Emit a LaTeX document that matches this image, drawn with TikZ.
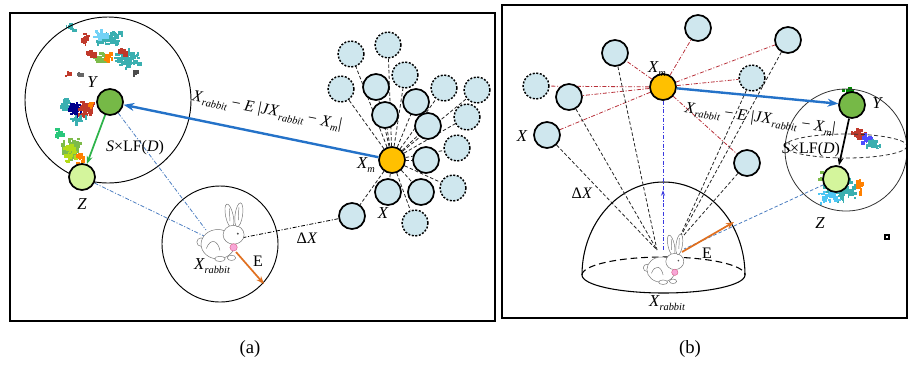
\documentclass[tikz,border=0pt]{standalone}
\usepackage{fontspec}
\setmainfont{Liberation Serif}
\usetikzlibrary{arrows.meta,decorations.markings}

\definecolor{nodeblue}{HTML}{CFE7EE}
\definecolor{gold}{HTML}{FFC000}
\definecolor{ygreen}{HTML}{76B947}
\definecolor{zgreen}{HTML}{D4F59C}
\definecolor{arrowblue}{HTML}{2472C8}
\definecolor{linkblue}{HTML}{4A7CC0}
\definecolor{redlink}{HTML}{B8313A}
\definecolor{eorange}{HTML}{E07020}
\definecolor{greenarrow}{HTML}{2DB34A}
\definecolor{upviolet}{HTML}{3A3AE0}
\definecolor{splteal}{HTML}{3AAFB0}
\definecolor{splred}{HTML}{C0392B}
\definecolor{splgreen}{HTML}{7DBB4A}

% sub-scripted symbols
\newcommand{\Xr}{\textit{X}\kern0.2pt\raisebox{-0.5ex}{\fontsize{7.8}{8}\selectfont\itshape rabbit}}
\newcommand{\Xm}{\textit{X}\kern0.2pt\raisebox{-0.5ex}{\fontsize{7.8}{8}\selectfont\itshape m}}
\newcommand{\stepeq}{\Xr\ − \textit{E}\ |\textit{J}\Xr\ − \Xm|}
\newcommand{\levy}{\textit{S}×LF(\textit{D})}

% random coloured speckles
\newcommand{\splat}[6]{%
  \foreach \k in {1,...,#5}{%
    \pgfmathsetmacro{\sx}{#1+#3*(rnd+rnd-1)}%
    \pgfmathsetmacro{\sy}{#2+#4*(rnd+rnd-1)}%
    \pgfmathsetmacro{\sw}{1.5+3.5*rnd}%
    \pgfmathsetmacro{\sh}{1.5+3*rnd}%
    \fill[#6] (\sx,\sy) rectangle ++(\sw,\sh);
  }}

\pgfdeclarelayer{bg}
\pgfsetlayers{bg,main}

\tikzset{
  sol/.style={circle, draw=black, line width=1.3pt, fill=nodeblue, minimum size=19.5pt, inner sep=0pt},
  ghost/.style={circle, draw=black, line width=1.1pt, dash pattern=on 1.5pt off 1.2pt, fill=nodeblue, minimum size=19.5pt, inner sep=0pt},
  best/.style={sol, fill=gold},
  ynode/.style={sol, fill=ygreen},
  znode/.style={sol, fill=zgreen},
  lbl/.style={font=\fontsize{12.5}{14}\selectfont\itshape, inner sep=0pt},
  txt/.style={font=\fontsize{12}{14}\selectfont, inner sep=0pt},
  link/.style={draw=black!85, line width=0.6pt, dash pattern=on 2.6pt off 1.6pt},
  dotlink/.style={line width=0.6pt, dash pattern=on 3pt off 1.3pt on 0.8pt off 1.3pt},
  frame/.style={draw=black, line width=1.5pt},
  move/.style={-{Stealth[length=8pt,width=6pt]}, line width=1.8pt},
  thinarrow/.style={-{Stealth[length=6pt,width=4.5pt]}, line width=1.3pt},
  rabbit/.pic={
    \begin{scope}[draw=black!55, line width=0.35pt, fill=white]
      \filldraw (-19,2) circle[radius=4];
      \filldraw (-3,4) ellipse[x radius=16, y radius=14];
      \filldraw[rotate around={12:(8,-23)}] (8,-23) ellipse[x radius=3.6, y radius=11.5];
      \filldraw (12,-5) ellipse[x radius=10, y radius=9];
      \filldraw[rotate around={-8:(17,-24)}] (17,-24) ellipse[x radius=3.6, y radius=11.5];
      \draw (8,-30) -- (8.5,-18);
      \draw (17,-31) -- (16.5,-19);
      \draw (-14,8) .. controls (-10,-2) and (-3,0) .. (-1,10);
      \filldraw (-1,18) ellipse[x radius=5, y radius=2.5];
      \filldraw (10,17) ellipse[x radius=4, y radius=2.5];
      \fill[black!70] (16,-6) circle[radius=1];
      \filldraw[fill=magenta!35, draw=purple!60] (12,7) circle[radius=3.5];
    \end{scope}
  }
}

\begin{document}
\begin{tikzpicture}[x=0.75pt,y=-0.75pt]
\useasboundingbox (0,0) rectangle (909,376);
\pgfmathsetseed{42}

% ================= panel (a) =================
\draw[frame] (10,13) rectangle (495,321);

\node[ynode] (Ya) at (110,102) {};
\node[znode] (Za) at (82,177) {};
\node[lbl] (lYa) at (92,82) {Y};
\node[lbl] (lZa) at (82,204) {Z};
\node[txt] (lSa) at (135,148) {\levy};

\node[best] (Xma) at (392,160) {};
\node[lbl] (lXma) at (366,165) {\Xm};
\node[sol] (a1) at (376,87) {};
\node[sol] (a2) at (385,115) {};
\node[sol] (a3) at (416,102) {};
\node[sol] (a4) at (428,126) {};
\node[sol] (a5) at (426,160) {};
\node[sol] (a6) at (421,192) {};
\node[sol] (a7) at (388,192) {};
\node[sol] (Xa) at (352,216) {};
\node[lbl] (lXa) at (383,213) {X};
\node[ghost] (g1) at (351,54) {};
\node[ghost] (g2) at (388,45) {};
\node[ghost] (g3) at (341,89) {};
\node[ghost] (g4) at (405,75) {};
\node[ghost] (g5) at (444,88) {};
\node[ghost] (g6) at (477,90) {};
\node[ghost] (g7) at (467,117) {};
\node[ghost] (g8) at (457,148) {};
\node[ghost] (g9) at (453,188) {};
\node[ghost] (g10) at (415,223) {};

\pic[scale=1.05] at (221,240) {rabbit};
\coordinate (raback) at (206,230);
\coordinate (raback2) at (204,236);
\coordinate (raface) at (241,238);
\coordinate (ramouth) at (236,252);
\coordinate (raE) at (264,284);
\node[lbl] (lXra) at (212,266) {\Xr};
\node[txt] (lEa) at (258,261) {E};
\node[txt] (lDXa) at (307,238) {Δ\textit{X}};

\begin{pgfonlayer}{bg}
  % speckles inside the large circle
  \splat{70}{26}{5}{5}{10}{splteal}
  \splat{108}{37}{13}{7}{60}{splteal}
  \splat{100}{34}{7}{5}{18}{cyan!55}
  \splat{84}{38}{4}{6}{16}{splred}
  \splat{126}{58}{13}{10}{70}{splteal}
  \splat{98}{57}{8}{6}{30}{splgreen}
  \splat{90}{52}{5}{4}{16}{splred}
  \splat{108}{56}{5}{4}{12}{orange}
  \splat{120}{50}{5}{4}{10}{splred}
  \splat{134}{70}{5}{4}{10}{black!70}
  \splat{66}{74}{3}{4}{6}{splred}
  \splat{78}{72}{3}{3}{5}{black!60}
  \splat{64}{102}{7}{8}{26}{splteal}
  \splat{74}{108}{8}{8}{30}{blue!55!black}
  \splat{84}{109}{9}{9}{42}{splred}
  \splat{76}{118}{9}{5}{16}{splteal}
  \splat{90}{104}{4}{4}{8}{orange}
  \splat{58}{132}{6}{5}{14}{splteal!70!green}
  \splat{70}{148}{10}{11}{60}{splgreen}
  \splat{68}{152}{8}{9}{30}{yellow!70!green}
  \splat{80}{158}{6}{6}{10}{orange}
  \draw[line width=0.7pt] (108,100) circle[radius=83];
  \draw[line width=0.7pt] (220,244) circle[radius=58];
  \foreach \n in {a1,a2,a3,a4,a5,a6,a7,Xa,g1,g2,g3,g4,g5,g6,g7,g8,g9,g10}
    \draw[link] (Xma) -- (\n);
  \draw[dotlink, draw=linkblue] (Ya) -- (raback);
  \draw[dotlink, draw=linkblue] (Za) -- (raback2);
  \draw[dotlink, draw=black] (Xa) -- (raface);
\end{pgfonlayer}

\draw[thinarrow, greenarrow] (Ya) -- (Za);
\draw[move, arrowblue] (Xma) -- (Ya);
\draw[thinarrow, eorange] (ramouth) -- (raE);
\node[txt, rotate=-11] (eqa) at (267,111) {\stepeq};

% ================= panel (b) =================
\draw[frame] (502,5) rectangle (907,318);

\node[best] (Xmb) at (663,87) {};
\node[lbl] (lXmb) at (657,69) {\Xm};
\node[ghost] (b1) at (536,86) {};
\node[sol] (b2) at (569,97) {};
\node[sol] (Xb) at (547,135) {};
\node[lbl] (lXb) at (522,136) {X};
\node[sol] (b3) at (615,53) {};
\node[sol] (b4) at (698,28) {};
\node[sol] (b5) at (788,40) {};
\node[ghost] (b6) at (752,78) {};
\node[sol] (b7) at (747,163) {};
\node[ynode] (Yb) at (852,105) {};
\node[znode] (Zb) at (836,179) {};
\node[lbl] (lYb) at (877,103) {Y};
\node[lbl] (lZb) at (820,223) {Z};
\node[txt] (lSb) at (811,150) {\levy};

\pic[scale=0.9] at (664,266) {rabbit};
\coordinate (rbl) at (657,250);
\coordinate (rbr) at (677,243);
\coordinate (rbtop) at (663,250);
\coordinate (rbm) at (682,252);
\coordinate (rbz) at (684,249);
\coordinate (rbE) at (734,222);
\node[lbl] (lXrb) at (667,303) {\Xr};
\node[txt] (lEb) at (707,253) {E};
\node[txt] (lDXb) at (582,193) {Δ\textit{X}};
\node[draw, line width=0.8pt, minimum size=3pt, inner sep=0pt] (sq) at (887,237) {};

\begin{pgfonlayer}{bg}
  \splat{838}{188}{18}{13}{80}{splteal}
  \splat{828}{195}{12}{8}{30}{cyan!70}
  \splat{857}{133}{8}{6}{28}{splred}
  \splat{866}{137}{6}{6}{16}{blue!70}
  \splat{872}{144}{8}{8}{22}{splteal}
  \splat{848}{89}{7}{4}{14}{green!55!black}
  \splat{858}{186}{6}{9}{14}{orange}
  \splat{822}{175}{5}{6}{10}{splgreen}
  % hemisphere around the rabbit
  \draw[line width=0.8pt] (582,275) arc[start angle=180, end angle=360, x radius=81.5, y radius=93];
  \draw[line width=0.8pt] (582,275) arc[start angle=180, end angle=0, x radius=81.5, y radius=18];
  \draw[line width=0.8pt, dash pattern=on 5pt off 3pt] (582,275) arc[start angle=180, end angle=360, x radius=81.5, y radius=18];
  % sphere around Y and Z
  \draw[line width=0.6pt, black!80] (846,150) circle[radius=61];
  \draw[line width=0.6pt, black!80, dash pattern=on 3pt off 2pt] (846,146) ellipse[x radius=61, y radius=12];
  \foreach \n in {b1,b2,Xb,b3,b4,b5,b6,b7}
    \draw[dotlink, draw=redlink] (Xmb) -- (\n);
  \foreach \n in {Xb,b2,b3}
    \draw[link] (\n) -- (rbl);
  \foreach \n in {b5,b6,b7}
    \draw[link] (\n) -- (rbr);
  \draw[dotlink, draw=upviolet, postaction={decorate, decoration={markings,
        mark=at position 0.6 with {\arrowreversed{Stealth[length=4pt,width=3pt]}}}}] (Xmb) -- (rbtop);
  \draw[link, draw=linkblue] (Zb) -- (rbz);
\end{pgfonlayer}

\draw[move, arrowblue] (Xmb) -- (Yb);
\draw[thinarrow, black] (Yb) -- (Zb);
\draw[thinarrow, eorange] (rbm) -- (rbE);
\node[txt, rotate=-8] (eqb) at (760,119) {\stepeq};

% captions
\node[font=\fontsize{14}{16}\selectfont] (capa) at (250,349) {(a)};
\node[font=\fontsize{14}{16}\selectfont] (capb) at (690,349) {(b)};
\end{tikzpicture}
\end{document}
